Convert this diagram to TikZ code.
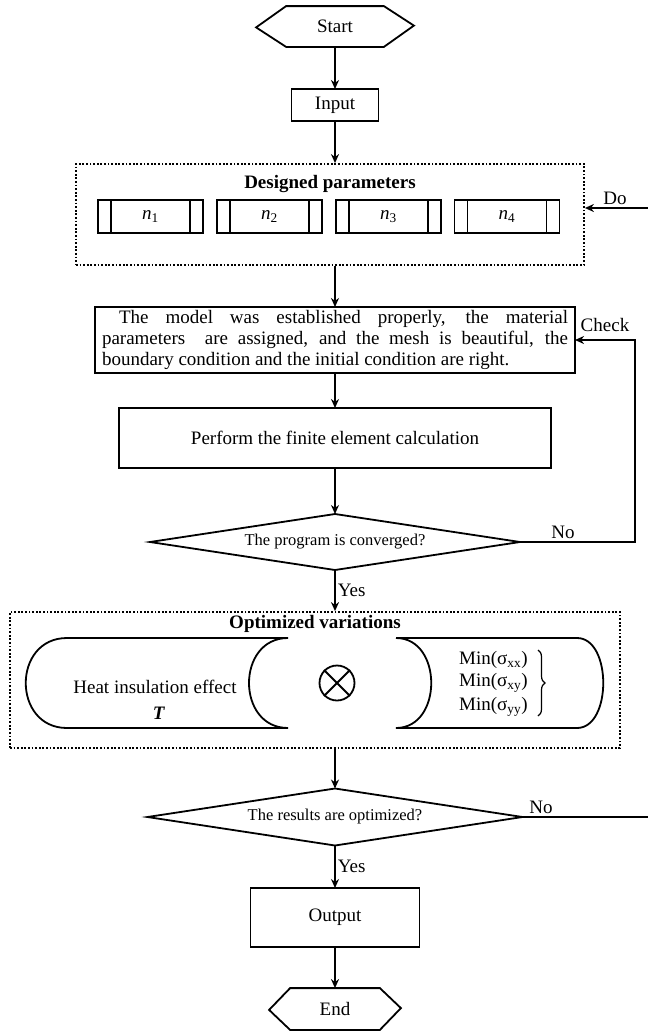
\documentclass[tikz,border=0pt]{standalone}
\usepackage{fontspec}
\setmainfont{Liberation Serif}
\usetikzlibrary{arrows.meta,shapes.geometric,decorations.pathreplacing}

\begin{document}
\begin{tikzpicture}[x=1pt, y=-1pt,
    font=\fontsize{19}{21}\selectfont,
    line width=1.8pt,
    arr/.style={-{Stealth[length=9pt,width=8pt]}},
    box/.style={draw, rectangle, inner sep=0pt, outer sep=0pt},
    dotbox/.style={draw, rectangle, dash pattern=on 1.8pt off 1.8pt},
    decision/.style={draw, diamond, aspect=6.6, inner sep=0pt, outer sep=0pt, font=\fontsize{16.5}{19}\selectfont},
    lbl/.style={inner sep=2pt}]
    \useasboundingbox (0,0) rectangle (648,1031);

    % Start and input
    \node[minimum width=96pt, minimum height=39pt, inner sep=0pt] (start) at (335,26.5) {Start};
    \draw (start.north west) -- (start.north east) -- ++(30,19.5) -- (start.south east)
        -- (start.south west) -- ++(-30,-19.5) -- cycle;
    \node[box, minimum width=87pt, minimum height=32pt] (input) at (335,105) {Input};

    % Designed parameters
    \node[dotbox, minimum width=508pt, minimum height=101pt] (design) at (330,214.5) {};
    \node[font=\fontsize{19}{21}\selectfont\bfseries] (designtitle) at (330,184) {Designed parameters};
    \node[box, minimum width=105pt, minimum height=33pt] (n1) at (150.5,216.5) {\textit{n}\textsubscript{1}};
    \node[box, minimum width=105pt, minimum height=33pt] (n2) at (269.5,216.5) {\textit{n}\textsubscript{2}};
    \node[box, minimum width=105pt, minimum height=33pt] (n3) at (388.5,216.5) {\textit{n}\textsubscript{3}};
    \node[box, minimum width=105pt, minimum height=33pt] (n4) at (507,216.5) {\textit{n}\textsubscript{4}};
    \foreach \k in {n1,n2,n3,n4} {
        \draw ([xshift=13pt]\k.north west) -- ([xshift=13pt]\k.south west);
        \draw ([xshift=-13pt]\k.north east) -- ([xshift=-13pt]\k.south east);
    }

    % Model and calculation
    \node[box, text width=466pt, align=justify, inner xsep=7pt, inner ysep=3pt, minimum height=66pt] (model) at (335,340)
        {\hspace*{0.9em}The model was established properly, the material\linebreak
         parameters\ \ are assigned, and the mesh is beautiful, the\linebreak
         boundary condition and the initial condition are right.};
    \node[box, minimum width=432pt, minimum height=60pt] (perform) at (335,438) {Perform the finite element calculation};
    \node[decision, minimum width=370pt, minimum height=56pt] (conv) at (335,542) {The program is converged?};

    % Optimized variations
    \node[dotbox, minimum width=610pt, minimum height=136pt] (optim) at (315,680) {};
    \node[font=\fontsize{19}{21}\selectfont\bfseries] (optimtitle) at (315,624) {Optimized variations};
    \draw (288,638) -- (67,638) .. controls (12,638) and (12,728) .. (67,728)
        -- (288,728) .. controls (236,728) and (236,638) .. (288,638);
    \draw (396,638) -- (577,638) .. controls (612,638) and (612,728) .. (577,728)
        -- (396,728) .. controls (443,728) and (443,638) .. (396,638);
    \node (heat) at (155,687) {Heat insulation effect};
    \node (tvar) at (159,713) {\textbf{\textit{T}}};
    \node[draw, circle, minimum size=35pt, inner sep=0pt] (otimes) at (337,683) {};
    \draw (otimes.45) -- (otimes.225) (otimes.135) -- (otimes.315);
    \node[anchor=west] (minxx) at (455,660) {Min(σ\textsubscript{xx})};
    \node[anchor=west] (minxy) at (455,683) {Min(σ\textsubscript{xy})};
    \node[anchor=west] (minyy) at (455,707) {Min(σ\textsubscript{yy})};
    \draw[line width=1.2pt, decorate, decoration={brace, amplitude=7pt}] (538,650) -- (538,716);

    % Check of results and end
    \node[decision, minimum width=375pt, minimum height=57pt] (result) at (335,817) {The results are optimized?};
    \node[box, minimum width=169pt, minimum height=59pt] (output) at (335,917.5) {Output};
    \node[minimum width=88pt, minimum height=40pt, inner sep=0pt] (finish) at (335,1009) {End};
    \draw (finish.north west) -- (finish.north east) -- ++(21,20) -- (finish.south east)
        -- (finish.south west) -- ++(-21,-20) -- cycle;

    % Connectors
    \coordinate (loopR) at (635,0);
    \coordinate (doR) at (648,208);
    \coordinate (noR) at (648,0);
    \draw[arr] (start) -- (input);
    \draw[arr] (input) -- (input |- design.north);
    \draw[arr] (design.south -| model) -- (model);
    \draw[arr] (model) -- (perform);
    \draw[arr] (perform) -- (conv);
    \draw[arr] (conv) -- (conv |- optim.north) node[midway, right, lbl] (yes1) {Yes};
    \draw[arr] (optim.south -| result) -- (result);
    \draw[arr] (result) -- (output) node[midway, right, lbl] (yes2) {Yes};
    \draw[arr] (output) -- (finish);
    \draw[arr] (conv.east) -- (conv.east -| loopR) -- (model.east -| loopR) -- (model.east);
    \node (no1) at (563,532) {No};
    \node (check) at (605,325) {Check};
    \draw[arr] (doR) -- (doR -| design.east);
    \node (do) at (615,198) {Do};
    \draw (result.east) -- (result.east -| noR);
    \node (no2) at (541,807) {No};
\end{tikzpicture}
\end{document}
